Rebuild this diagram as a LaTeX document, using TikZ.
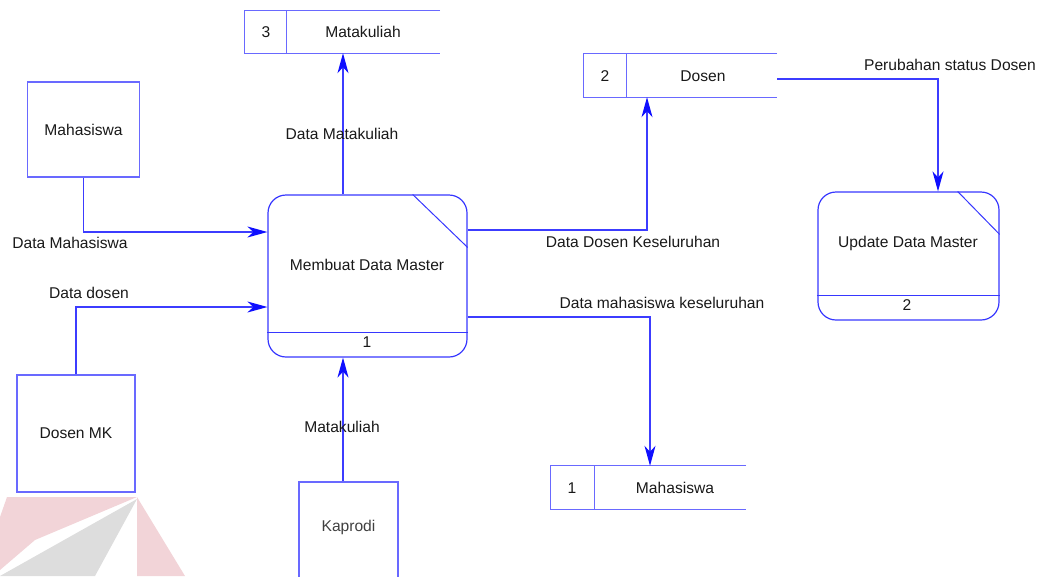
\documentclass[tikz,border=0pt]{standalone}
\usepackage{fontspec}
\setmainfont{Liberation Sans}
\usetikzlibrary{arrows.meta,calc}

\definecolor{entblue}{RGB}{105,105,255}
\definecolor{procblue}{RGB}{55,55,255}
\definecolor{flowblue}{RGB}{60,60,255}
\definecolor{tipblue}{RGB}{15,15,255}
\definecolor{txt}{RGB}{25,25,25}
\definecolor{wmpink}{RGB}{242,212,216}
\definecolor{wmgray}{RGB}{221,221,221}

\tikzset{
  every node/.style={font=\fontsize{15.6}{18}\selectfont, text=txt, inner sep=0pt},
  entity/.style={draw=entblue, line width=1.2pt, rectangle},
  proc/.style={draw=procblue, line width=1.2pt, rectangle, rounded corners=18pt},
  procline/.style={draw=procblue, line width=1pt},
  storeline/.style={draw=entblue, line width=1.2pt},
  storebox/.style={rectangle, minimum height=42pt},
  flow/.style={draw=flowblue, line width=1.2pt,
    -{Stealth[length=20pt,width=11pt,inset=6pt,color=tipblue]}},
  flowlabel/.style={fill=none},
}

\begin{document}
\begin{tikzpicture}[x=1pt,y=-1pt]
\useasboundingbox (0,0) rectangle (1041,576);

% faint logo in the lower left corner
\fill[wmpink] (7,497) -- (137,497) -- (35,540) -- (0,570) -- (0,517) -- cycle;
\fill[wmgray] (137,499) -- (95,576) -- (0,576) -- cycle;
\fill[wmpink] (137,497) -- (185,576) -- (137,576) -- cycle;

% external entities
\node[entity, minimum width=112pt, minimum height=95pt] (mhs) at (83.5,129.5) {Mahasiswa};
\node[entity, minimum width=118pt, minimum height=117pt] (dmk) at (76,433.5) {Dosen MK};
\node[entity, minimum width=99pt, minimum height=118pt] (kap) at (348.5,541) {};
\node[text=black!75] (kaptxt) at (348.5,527) {Kaprodi};

% processes
\node[proc, minimum width=199pt, minimum height=162pt] (p1) at (367.5,276) {};
\draw[procline] ($(p1.south west)+(0,-25)$) -- ($(p1.south east)+(0,-25)$);
\draw[procline] ($(p1.north east)+(-55,0)$) -- ($(p1.north east)+(0,53)$);
\node (p1txt) at (367,265) {Membuat Data Master};
\node (p1num) at (367,342) {1};

\node[proc, minimum width=181pt, minimum height=128pt] (p2) at (908.5,256) {};
\draw[procline] ($(p2.south west)+(0,-25)$) -- ($(p2.south east)+(0,-25)$);
\draw[procline] ($(p2.north east)+(-42,0)$) -- ($(p2.north east)+(0,43)$);
\node (p2txt) at (908,243) {Update Data Master};
\node (p2num) at (907,305) {2};

% data stores (open on the right)
\node[storebox, minimum width=195pt] (ds3) at (342.5,32) {};
\draw[storeline] (ds3.north east) -- (ds3.north west) -- (ds3.south west) -- (ds3.south east);
\draw[storeline] ($(ds3.north west)+(42,0)$) -- ($(ds3.south west)+(42,0)$);
\node (ds3num) at (266,32) {3};
\node (ds3txt) at (363,32) {Matakuliah};

\node[storebox, minimum width=193pt, minimum height=43pt] (ds2) at (680.5,75.5) {};
\draw[storeline] (ds2.north east) -- (ds2.north west) -- (ds2.south west) -- (ds2.south east);
\draw[storeline] ($(ds2.north west)+(43,0)$) -- ($(ds2.south west)+(43,0)$);
\node (ds2num) at (605,76) {2};
\node (ds2txt) at (703,76) {Dosen};

\node[storebox, minimum width=195pt, minimum height=43pt] (ds1) at (648.5,487.5) {};
\draw[storeline] (ds1.north east) -- (ds1.north west) -- (ds1.south west) -- (ds1.south east);
\draw[storeline] ($(ds1.north west)+(44,0)$) -- ($(ds1.south west)+(44,0)$);
\node (ds1num) at (572,488) {1};
\node (ds1txt) at (675,488) {Mahasiswa};

% bend points of the flows
\coordinate (k1) at (0,232);
\coordinate (k2) at (0,307);
\coordinate (k3) at (343,0);
\coordinate (k4) at (647,230);
\coordinate (k5) at (650,317);
\coordinate (k7) at (938,79);

% data flows
\draw[flow] (mhs.south) |- (p1.west |- k1);
\draw[flow] (dmk.north) |- (p1.west |- k2);
\draw[flow] (p1.north -| k3) -- (ds3.south -| k3);
\draw[flow] (p1.east |- k4) -| (k4 |- ds2.south);
\draw[flow] (p1.east |- k5) -| (k5 |- ds1.north);
\draw[flow] (kap.north -| k3) -- (p1.south -| k3);
\draw[flow] (ds2.east |- k7) -| (k7 |- p2.north);

% flow labels
\node[flowlabel] (l1) at (70,243) {Data Mahasiswa};
\node[flowlabel] (l2) at (89,293) {Data dosen};
\node[flowlabel] (l3) at (342,134) {Data Matakuliah};
\node[flowlabel] (l4) at (633,242) {Data Dosen Keseluruhan};
\node[flowlabel] (l5) at (662,303) {Data mahasiswa keseluruhan};
\node[flowlabel] (l6) at (342,427) {Matakuliah};
\node[flowlabel] (l7) at (950,65) {Perubahan status Dosen};
\end{tikzpicture}
\end{document}
